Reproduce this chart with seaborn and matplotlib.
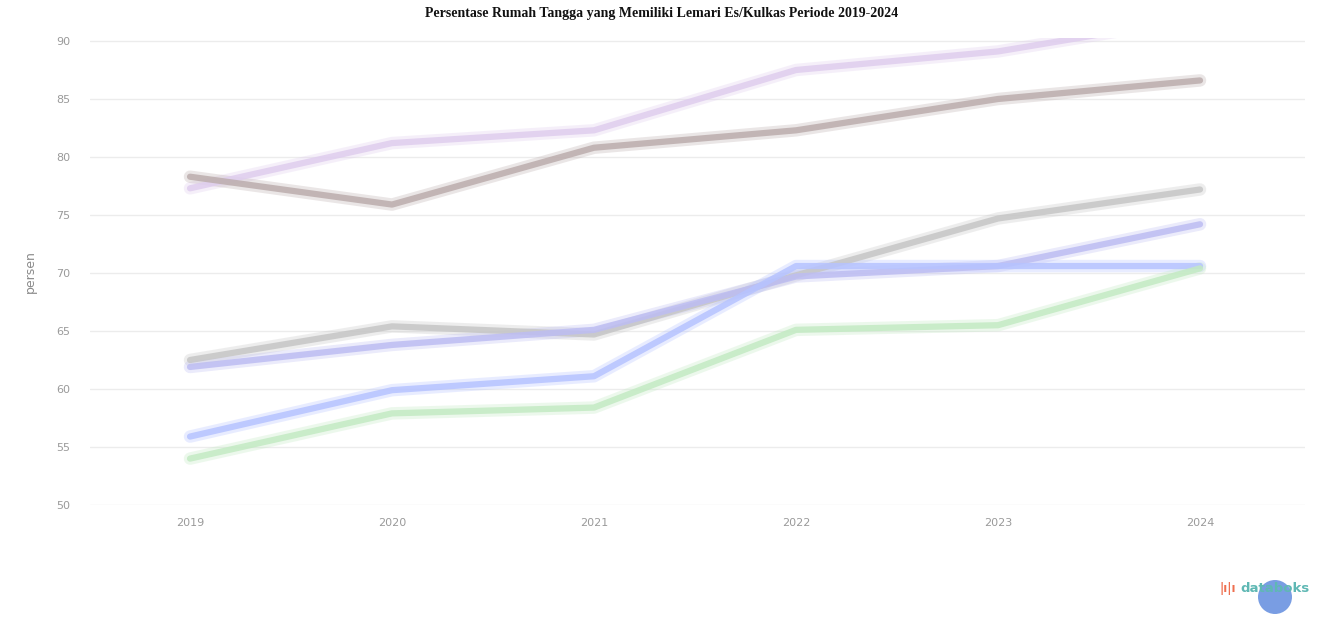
import pandas as pd
import matplotlib.pyplot as plt
import seaborn as sns
from matplotlib.patches import Ellipse

sns.set_style("white")
plt.rcParams['font.family'] = ['DejaVu Sans']

# Data
tahun = [2019, 2020, 2021, 2022, 2023, 2024]
seri_1 = [77.3, 81.2, 82.3, 87.5, 89.1, 92.0]
seri_2 = [78.3, 75.9, 80.8, 82.3, 85.0, 86.6]
seri_3 = [62.5, 65.4, 64.7, 69.8, 74.7, 77.2]
seri_4 = [61.9, 63.8, 65.1, 69.7, 70.6, 74.2]
seri_5 = [55.9, 59.9, 61.1, 70.6, 70.6, 70.6]
seri_6 = [54.0, 57.9, 58.4, 65.1, 65.5, 70.4]
nama_seri = ['Seri 1', 'Seri 2', 'Seri 3', 'Seri 4', 'Seri 5', 'Seri 6']
warna = ['#dfcdee', '#bcadad', '#c6c6c6', '#bdbdf2', '#b6c3ff', '#c3eac3']
y_ticks = [50, 55, 60, 65, 70, 75, 80, 85, 90]

rows = []
for nama, nilai in zip(nama_seri, [seri_1, seri_2, seri_3, seri_4, seri_5, seri_6]):
    for t, v in zip(tahun, nilai):
        rows.append({'tahun': t, 'nilai': v, 'seri': nama})
df = pd.DataFrame(rows)

fig = plt.figure(figsize=(13.24, 6.17), dpi=100)
ax = fig.add_axes([0.068, 0.1815, 0.9177, 0.7577])

# lapisan lebar transparan untuk efek lembut
sns.lineplot(data=df, x='tahun', y='nilai', hue='seri', palette=warna,
             linewidth=9, alpha=0.3, legend=False, ax=ax)
sns.lineplot(data=df, x='tahun', y='nilai', hue='seri', palette=warna,
             linewidth=4.5, alpha=0.85, legend=False, ax=ax)

ax.set_xlim(2018.505, 2024.52)
ax.set_ylim(50, 90.3)
ax.set_xticks(tahun)
ax.set_xticklabels([str(t) for t in tahun])
ax.set_yticks(y_ticks)
ax.set_yticklabels([str(v) for v in y_ticks])
ax.tick_params(axis='both', length=0, labelsize=8, colors='#9a9a9a')
ax.tick_params(axis='x', pad=9)
ax.tick_params(axis='y', pad=14)
ax.grid(axis='y', color='#ececec', linewidth=1)
for s in ax.spines.values():
    s.set_visible(False)
ax.set_xlabel('')
ax.set_ylabel('persen', fontsize=9, color='#8a8a8a', labelpad=14)

fig.text(0.5, 0.988, 'Persentase Rumah Tangga yang Memiliki Lemari Es/Kulkas Periode 2019-2024',
         ha='center', va='top', fontsize=10, fontweight='bold',
         family='Liberation Serif', color='#111111')

# logo databoks
fig.text(1310 / 1324, 0.046, 'databoks', ha='right', va='center', fontsize=9.5,
         color='#5fb8b4', fontweight='bold')
fig.text(1236 / 1324, 0.046, '|ı|ı', ha='right', va='center', fontsize=8.5,
         color='#ef6f4f', fontweight='bold')
fig.patches.append(Ellipse((1275 / 1324, 20 / 617), 34 / 1324, 34 / 617,
                           transform=fig.transFigure, facecolor='#6a93e0',
                           alpha=0.9, edgecolor='none'))

plt.savefig('out.png', dpi=100)
